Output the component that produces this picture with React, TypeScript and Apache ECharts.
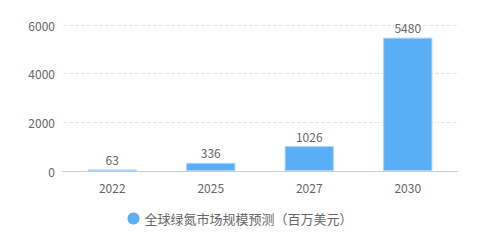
import React, { useEffect, useRef } from "react";
import * as echarts from "echarts";

const categories = ["2022", "2025", "2027", "2030"];
const values = [63, 336, 1026, 5480];
const seriesName = "全球绿氮市场规模预测（百万美元）";

export default function App() {
  const ref = useRef<HTMLDivElement>(null);
  useEffect(() => {
    document.body.style.margin = "0";
    const chart = echarts.init(ref.current!, undefined, { renderer: "svg" });
    chart.setOption({
      animation: false,
      textStyle: { fontFamily: "'Noto Sans CJK SC', 'Noto Sans', sans-serif" },
      grid: { left: 63, right: 23, top: 25, bottom: 81 },
      legend: {
        bottom: 22,
        left: "center",
        icon: "circle",
        itemWidth: 12,
        itemHeight: 12,
        itemGap: 10,
        itemStyle: { borderWidth: 0 },
        textStyle: { color: "#666", fontSize: 13 },
        data: [seriesName],
      },
      xAxis: {
        type: "category",
        data: categories,
        axisLine: { lineStyle: { color: "#ccc" } },
        axisTick: { alignWithLabel: true, lineStyle: { color: "#ccc" } },
        axisLabel: { color: "#666", fontSize: 12, margin: 10 },
      },
      yAxis: {
        type: "value",
        min: 0,
        max: 6000,
        interval: 2000,
        axisLabel: { color: "#666", fontSize: 12, margin: 8, formatter: (v: number) => String(v) },
        splitLine: { lineStyle: { color: "#e6e6e6", type: "dashed" } },
      },
      series: [
        {
          name: seriesName,
          type: "bar",
          data: values,
          barWidth: "50%",
          itemStyle: { color: "#5aaef5", borderColor: "#a8d3fa", borderWidth: 1 },
          label: { show: true, position: "top", color: "#666", fontSize: 12, distance: 4 },
        },
      ],
    });
    return () => chart.dispose();
  }, []);
  return <div ref={ref} style={{ width: 480, height: 252 }} />;
}
